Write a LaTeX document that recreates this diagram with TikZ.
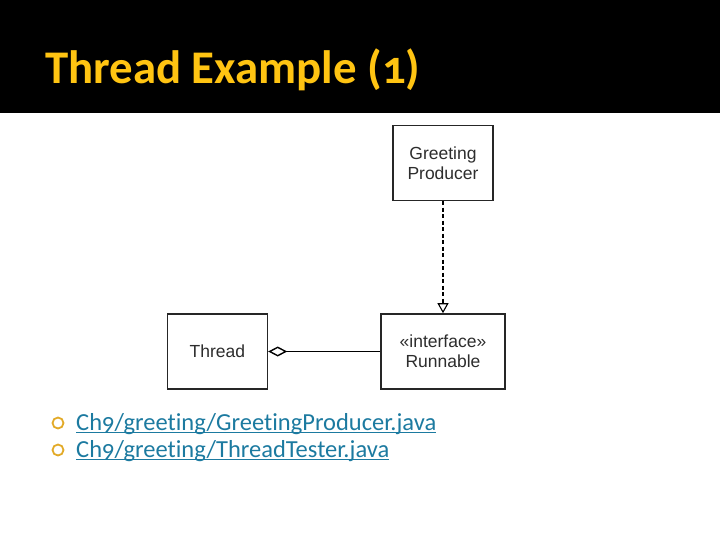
\documentclass[tikz,border=0pt]{standalone}
\usepackage{fontspec}
\setmainfont{Carlito}[Numbers=OldStyle]
\newfontfamily\umlfont{Liberation Sans}
\newfontfamily\linkfont{Carlito}[Numbers=OldStyle, Ligatures=NoCommon]
\usepackage{xcolor}
\usetikzlibrary{arrows.meta, positioning}
\definecolor{titleyellow}{RGB}{255,196,18}
\definecolor{linkteal}{RGB}{28,122,160}
\definecolor{bulletgold}{RGB}{226,170,40}
\definecolor{umlgray}{RGB}{45,45,45}

\begin{document}
\begin{tikzpicture}[x=1pt, y=-1pt,
  cls/.style={draw=black!85, line width=1.6pt, fill=white, align=center,
              minimum width=100pt, minimum height=75pt, inner sep=0pt,
              font=\umlfont\fontsize{17.5}{20}\selectfont, text=umlgray},
  bullet/.style={circle, draw=bulletgold, line width=1.8pt,
                 minimum size=11pt, inner sep=0pt},
  link/.style={anchor=base west, inner sep=0pt, text=linkteal,
               font=\linkfont\fontsize{24.5}{28}\selectfont},
  node distance=113pt
]
\useasboundingbox (0,0) rectangle (720,540);
\fill[black] (0,0) rectangle (720,113);
\node[anchor=base west, inner sep=0pt, text=titleyellow,
      font=\bfseries\fontsize{46.8}{50}\selectfont] (title) at (45,84)
    {Thread Example (1)};

% class diagram
\node[cls, minimum width=124pt] (runnable) at (443,351.5)
    {\guillemotleft interface\guillemotright\\Runnable};
\node[cls, above=112pt of runnable] (producer) {Greeting\\Producer};
\node[cls, left=112pt of runnable] (thread) {Thread};
\draw[line width=1.1pt, dash pattern=on 4pt off 2.5pt,
      -{Triangle[open, length=10pt, width=11pt]}]
    (producer) -- (runnable);
\draw[line width=1.4pt, {Diamond[open, length=19pt, width=10pt]}-]
    (thread) -- (runnable);

% file list
\node[bullet] (b1) at (58,423) {};
\node[bullet] (b2) at (58,450) {};
\node[link] (f1) at (76,430) {Ch9/greeting/GreetingProducer.java};
\node[link] (f2) at (76,457) {Ch9/greeting/ThreadTester.java};
\draw[linkteal, line width=1.8pt]
    ([yshift=-2.5pt]f1.base west) -- ([yshift=-2.5pt]f1.base east);
\draw[linkteal, line width=1.8pt]
    ([yshift=-2.5pt]f2.base west) -- ([yshift=-2.5pt]f2.base east);
\end{tikzpicture}
\end{document}
